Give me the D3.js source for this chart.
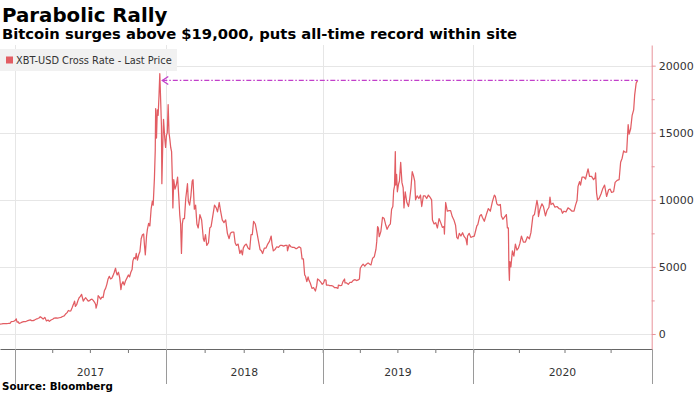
<!DOCTYPE html>
<html><head><meta charset="utf-8">
<script src="https://cdn.jsdelivr.net/npm/d3@7"></script>
<style>
html,body{margin:0;padding:0;background:#fff;}
svg{display:block;font-family:"DejaVu Sans",sans-serif;}
</style></head>
<body><svg id="c" width="700" height="393"></svg>
<script>
const title = "Parabolic Rally";
const subtitle = "Bitcoin surges above $19,000, puts all-time record within site";
const legendLabel = "XBT-USD Cross Rate - Last Price";
const sourceLabel = "Source: Bloomberg";
const yearLabels = ["2017", "2018", "2019", "2020"];
const yTicks = [0, 5000, 10000, 15000, 20000];
const yMinorTicks = [2500, 7500, 12500, 17500];

const p2016 = [["2016-11-26",735],["2016-11-30",745],["2016-12-04",765],["2016-12-08",770],["2016-12-12",780],["2016-12-16",785],["2016-12-20",795],["2016-12-23",915],["2016-12-27",930],["2016-12-30",960]];
const p2017 = [
["01-01",1000],["01-04",1130],["01-06",890],["01-09",905],["01-11",780],["01-14",820],["01-18",880],["01-22",920],["01-26",915],["01-30",970],
["02-03",1010],["02-07",1050],["02-10",995],["02-14",1000],["02-18",1055],["02-22",1120],["02-25",1150],["02-28",1190],
["03-03",1285],["03-07",1200],["03-10",1110],["03-14",1240],["03-18",970],["03-22",1040],["03-25",940],["03-29",1040],
["04-02",1100],["04-06",1190],["04-10",1200],["04-14",1180],["04-18",1210],["04-22",1240],["04-26",1300],["04-30",1350],
["05-04",1510],["05-07",1590],["05-10",1750],["05-13",1710],["05-16",1730],["05-19",1950],["05-22",2190],["05-25",2450],["05-27",2050],["05-30",2180],
["06-02",2480],["06-05",2700],["06-08",2800],["06-11",2950],["06-13",2700],["06-15",2450],["06-18",2600],["06-21",2700],["06-24",2570],["06-27",2450],["06-30",2480],
["07-03",2570],["07-06",2600],["07-09",2500],["07-12",2380],["07-15",2200],["07-16",1930],["07-19",2280],["07-21",2850],["07-24",2750],["07-27",2600],["07-30",2750],
["08-02",2720],["08-05",3220],["08-08",3400],["08-11",3700],["08-14",4100],["08-17",4300],["08-20",4100],["08-23",4150],["08-26",4350],["08-29",4600],
["09-01",4900],["09-03",4600],["09-05",4400],["09-08",4600],["09-11",4200],["09-14",3300],["09-16",3700],["09-19",3900],["09-22",3650],["09-25",3950],["09-29",4200],
["10-02",4400],["10-05",4250],["10-08",4600],["10-11",4800],["10-13",5450],["10-16",5700],["10-19",5600],["10-21",6000],["10-24",5500],["10-27",5900],["10-30",6150],
["11-02",7100],["11-05",7400],["11-08",7450],["11-10",6600],["11-12",5900],["11-15",7300],["11-17",7800],["11-20",8250],["11-23",8050],["11-26",9300],["11-29",9900],
["12-01",9600],["12-04",11600],["12-06",13700],["12-07",16800],["12-09",14600],["12-11",16700],["12-13",16300],["12-15",17700],["12-17",19400],["12-19",17500],["12-21",15500],["12-22",11200],["12-24",13900],["12-26",16000],["12-29",14600],["12-31",13900]
];
const p2018 = [
["01-02",14800],["01-04",15000],["01-06",17100],["01-08",15000],["01-10",14500],["01-12",13900],["01-14",13600],["01-16",11300],["01-17",9400],["01-19",11500],["01-22",10800],["01-25",11100],["01-28",11700],["01-31",10100],
["02-02",8900],["02-04",8200],["02-06",6000],["02-08",8200],["02-10",8600],["02-13",8600],["02-16",10100],["02-20",11200],["02-22",9900],["02-25",9600],["02-28",10300],
["03-03",11400],["03-05",11500],["03-08",9300],["03-11",9600],["03-14",8200],["03-17",7900],["03-19",8400],["03-21",8900],["03-25",8500],["03-29",7100],["03-31",6900],
["04-03",7400],["04-06",6600],["04-10",6800],["04-13",7900],["04-16",8000],["04-20",8800],["04-24",9600],["04-28",9400],
["05-01",9100],["05-05",9800],["05-08",9200],["05-12",8500],["05-16",8300],["05-20",8500],["05-24",7500],["05-28",7100],["05-31",7500],
["06-04",7600],["06-08",7600],["06-11",6800],["06-14",6600],["06-18",6700],["06-22",6000],["06-25",6250],["06-28",5900],["06-30",6400],
["07-03",6600],["07-07",6700],["07-11",6400],["07-15",6300],["07-18",7400],["07-21",7400],["07-24",8400],["07-28",8200],["07-31",7700],
["08-04",7000],["08-08",6300],["08-11",6200],["08-14",6000],["08-18",6400],["08-22",6400],["08-26",6700],["08-30",6900],
["09-03",7300],["09-05",6700],["09-08",6200],["09-12",6300],["09-16",6500],["09-20",6450],["09-24",6600],["09-28",6600],
["10-02",6550],["10-06",6600],["10-10",6600],["10-11",6200],["10-15",6650],["10-19",6500],["10-23",6450],["10-27",6450],["10-31",6350],
["11-03",6400],["11-07",6500],["11-11",6400],["11-14",5600],["11-17",5600],["11-20",4400],["11-22",4300],["11-25",3900],["11-28",4250],["11-30",4000],
["12-03",3800],["12-07",3400],["12-11",3450],["12-15",3200],["12-18",3600],["12-20",4100],["12-24",4000],["12-28",3850],["12-31",3700]
];
const p2019 = [
["01-03",3800],["01-06",4050],["01-09",4000],["01-10",3650],["01-14",3650],["01-18",3600],["01-22",3600],["01-26",3570],["01-30",3450],
["02-03",3450],["02-07",3400],["02-08",3650],["02-12",3600],["02-16",3620],["02-19",3900],["02-23",4100],["02-24",3800],["02-28",3800],
["03-04",3700],["03-08",3850],["03-12",3850],["03-16",4000],["03-20",4050],["03-24",3980],["03-28",4030],["03-31",4100],
["04-02",4900],["04-05",5050],["04-09",5200],["04-13",5050],["04-17",5200],["04-21",5300],["04-25",5200],["04-28",5150],
["05-02",5650],["05-06",5750],["05-10",6300],["05-12",6900],["05-14",8000],["05-16",7900],["05-18",7250],["05-22",7650],["05-26",8700],["05-30",8600],
["06-03",8100],["06-06",7800],["06-10",8050],["06-14",8200],["06-17",9300],["06-20",9500],["06-22",10700],["06-24",11000],["06-26",13600],["06-27",11100],["06-29",11900],
["07-01",10600],["07-04",11200],["07-06",11400],["07-09",12800],["07-12",11300],["07-15",10900],["07-17",9400],["07-20",10600],["07-24",9800],["07-28",9500],["07-31",10100],
["08-03",10900],["08-06",12100],["08-09",11800],["08-12",11400],["08-14",10000],["08-18",10300],["08-22",10100],["08-26",10350],["08-29",9500],
["09-02",10300],["09-06",10300],["09-10",10100],["09-14",10350],["09-18",10200],["09-22",10000],["09-24",8500],["09-28",8200],
["10-02",8300],["10-06",7900],["10-10",8600],["10-14",8300],["10-18",7950],["10-22",8000],["10-23",7450],["10-26",9800],["10-30",9150],
["11-03",9200],["11-07",9200],["11-11",8750],["11-15",8500],["11-19",8100],["11-22",7200],["11-25",7100],["11-28",7500],
["12-02",7300],["12-06",7550],["12-10",7250],["12-14",7100],["12-17",6650],["12-18",7300],["12-22",7500],["12-26",7200],["12-30",7250]
];
const p2020 = [
["01-03",7300],["01-06",7750],["01-08",8050],["01-10",8150],["01-14",8800],["01-17",8900],["01-19",8700],["01-23",8400],["01-27",8900],["01-31",9350],
["02-04",9150],["02-08",9850],["02-12",10350],["02-14",10250],["02-17",9700],["02-20",9600],["02-24",9650],["02-26",8800],["02-29",8550],
["03-04",8750],["03-07",8900],["03-09",7900],["03-11",7900],["03-12",5000],["03-13",4000],["03-14",5400],["03-16",5000],["03-19",6200],["03-22",5800],["03-25",6700],["03-28",6250],["03-31",6400],
["04-03",6750],["04-06",7300],["04-10",6850],["04-14",6850],["04-18",7250],["04-22",7100],["04-25",7550],["04-29",8800],
["05-02",8900],["05-07",9950],["05-09",9550],["05-10",8750],["05-13",9300],["05-17",9700],["05-20",9500],["05-24",8800],["05-27",9200],["05-31",9450],
["06-02",10200],["06-04",9650],["06-08",9750],["06-12",9450],["06-16",9500],["06-20",9350],["06-24",9300],["06-27",9000],["06-30",9150],
["07-04",9100],["07-08",9400],["07-12",9300],["07-16",9150],["07-20",9150],["07-23",9600],["07-26",9950],["07-28",11000],["07-31",11350],
["08-02",11100],["08-05",11700],["08-09",11700],["08-12",11550],["08-17",12300],["08-20",11750],["08-24",11750],["08-28",11500],["08-31",11650],
["09-01",12000],["09-03",10500],["09-05",10000],["09-08",10100],["09-12",10450],["09-15",10800],["09-19",11100],["09-23",10250],["09-27",10750],["09-30",10800],
["10-03",10550],["10-07",10600],["10-10",11300],["10-14",11450],["10-18",11500],["10-21",12800],["10-24",13100],["10-27",13650],["10-30",13550],
["11-02",13550],["11-05",15600],["11-07",14900],["11-10",15300],["11-13",16300],["11-16",16700],["11-18",17800],["11-21",18700],["11-24",18900]
];

// axis time domain: start, year boundaries, end of axis
const axisDates = ["2016-11-26","2017-01-01","2018-01-01","2019-01-01","2020-01-01","2020-12-22"];

// ---------- BUILD ----------
const parse = d3.utcParse("%Y-%m-%d");
const series = [].concat(
  p2016.map(d => ({date: parse(d[0]), v: d[1]})),
  p2017.map(d => ({date: parse("2017-" + d[0]), v: d[1]})),
  p2018.map(d => ({date: parse("2018-" + d[0]), v: d[1]})),
  p2019.map(d => ({date: parse("2019-" + d[0]), v: d[1]})),
  p2020.map(d => ({date: parse("2020-" + d[0]), v: d[1]}))
);

const plotL = 0, plotR = 651.7, plotT = 45, plotB = 349;
const xPos = [0, 15, 166, 322.7, 473.3, 651.7].map(p => plotL + (p / 651.7) * (plotR - plotL));
const x = d3.scaleUtc().domain(axisDates.map(parse)).range(xPos);
const y = d3.scaleLinear().domain([-1120, 21540]).range([plotB, plotT]);

const svg = d3.select("#c");
const lineColor = "#e25d63";
const gridColor = "#e6e6e6";
const axisPink = "#e8939a";

// horizontal gridlines
svg.append("g").selectAll("line").data(yTicks).join("line")
  .attr("x1", plotL).attr("x2", plotR)
  .attr("y1", d => Math.round(y(d)) + 0.5).attr("y2", d => Math.round(y(d)) + 0.5)
  .attr("stroke", gridColor).attr("stroke-width", 1);

// vertical year gridlines (inside plot)
const yearStarts = yearLabels.map(s => parse(s + "-01-01"));
svg.append("g").selectAll("line").data(yearStarts).join("line")
  .attr("x1", d => Math.round(x(d)) + 0.5).attr("x2", d => Math.round(x(d)) + 0.5)
  .attr("y1", plotT).attr("y2", plotB)
  .attr("stroke", gridColor).attr("stroke-width", 1);

// legend
svg.append("rect").attr("x", 0).attr("y", 49).attr("width", 177).attr("height", 22).attr("fill", "#f1f1f1");
svg.append("rect").attr("x", 6).attr("y", 56.5).attr("width", 7).attr("height", 7).attr("fill", lineColor);
svg.append("text").attr("x", 16).attr("y", 64).attr("font-size", 9.8).attr("fill", "#333").text(legendLabel);

// series line
svg.append("path").datum(series)
  .attr("d", d3.line().x(d => x(d.date)).y(d => y(d.v)))
  .attr("fill", "none").attr("stroke", lineColor).attr("stroke-width", 1.25).attr("stroke-linejoin", "round");

// annotation arrow: from last price back to the previous record
const last = series[series.length - 1];
const peak = series.filter(d => d.date < parse("2019-01-01")).reduce((a, b) => b.v > a.v ? b : a);
const ay = y(last.v);
const ax0 = x(peak.date) + 2.5, ax1 = x(last.date);
const magenta = "#c23fca";
svg.append("line").attr("x1", ax0).attr("x2", ax1).attr("y1", ay).attr("y2", ay)
  .attr("stroke", magenta).attr("stroke-width", 1.4).attr("stroke-dasharray", "5,2,1.5,2");
svg.append("path").attr("d", `M${ax0 + 6},${ay - 4}L${ax0},${ay}L${ax0 + 6},${ay + 4}`)
  .attr("fill", "none").attr("stroke", magenta).attr("stroke-width", 1.3);

// x axis
const quarterTicks = d3.utcMonth.every(3).range(parse("2017-01-01"), parse("2020-12-22"));
const xAxis = d3.axisBottom(x).tickValues(quarterTicks).tickSize(4).tickSizeOuter(0).tickFormat("");
const gx = svg.append("g").attr("transform", `translate(0,${plotB})`).call(xAxis);
gx.select(".domain").attr("stroke", "#666");
gx.selectAll(".tick line").attr("stroke", "#777");
// year separators below axis
const sepDates = yearStarts.concat([parse(axisDates[axisDates.length - 1])]);
svg.append("g").selectAll("line").data(sepDates).join("line")
  .attr("x1", d => Math.round(x(d)) + 0.5).attr("x2", d => Math.round(x(d)) + 0.5)
  .attr("y1", plotB).attr("y2", 384)
  .attr("stroke", "#9a9a9a").attr("stroke-width", 1);
// year labels
svg.append("g").selectAll("text").data(yearLabels).join("text")
  .attr("x", (d, i) => (x(sepDates[i]) + x(sepDates[i + 1])) / 2)
  .attr("y", 376).attr("text-anchor", "middle").attr("font-size", 10.8).attr("fill", "#333")
  .text(d => d);

// y axis (right)
const yAxis = d3.axisRight(y).tickValues(yTicks).tickSize(4).tickSizeOuter(0).tickPadding(3).tickFormat(d3.format("d"));
const gy = svg.append("g").attr("transform", `translate(${plotR},0)`).call(yAxis);
gy.select(".domain").attr("stroke", axisPink);
gy.selectAll(".tick line").attr("stroke", axisPink);
gy.selectAll(".tick text").attr("font-size", 11).attr("fill", "#333").attr("font-family", "DejaVu Sans, sans-serif");
const gym = svg.append("g").attr("transform", `translate(${plotR},0)`)
  .call(d3.axisRight(y).tickValues(yMinorTicks).tickSize(3).tickSizeOuter(0).tickFormat(""));
gym.select(".domain").remove();
gym.selectAll(".tick line").attr("stroke", axisPink);

// titles
svg.append("text").attr("x", 2).attr("y", 21.5).attr("font-size", 19.8).attr("font-weight", "bold").attr("fill", "#000").text(title);
svg.append("text").attr("x", 2).attr("y", 39.3).attr("font-size", 14.75).attr("font-weight", "bold").attr("fill", "#000").text(subtitle);
svg.append("text").attr("x", 2).attr("y", 390).attr("font-size", 10.3).attr("font-weight", "bold").attr("fill", "#000").text(sourceLabel);
</script>
</body></html>
